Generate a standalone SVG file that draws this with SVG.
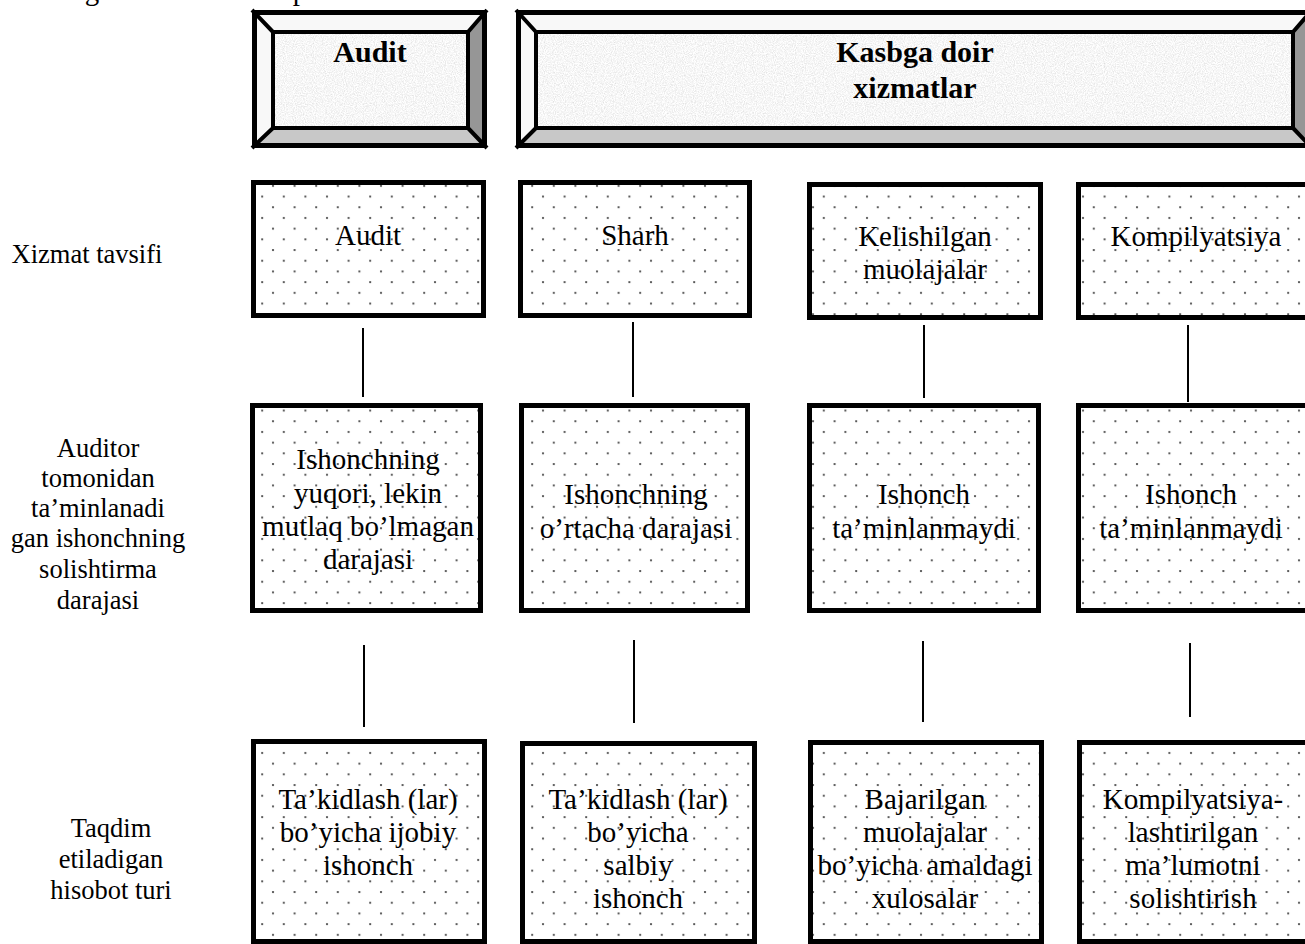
<svg xmlns="http://www.w3.org/2000/svg" width="1305" height="944" viewBox="0 0 1305 944">
<style>
  .t { font-family: "Liberation Serif", "Times New Roman", serif; font-size: 29px; fill: #000; text-anchor: middle; }
  .lbl { font-family: "Liberation Serif", "Times New Roman", serif; font-size: 26.5px; fill: #000; text-anchor: middle; }
  .hd { font-family: "Liberation Serif", "Times New Roman", serif; font-size: 30px; font-weight: bold; fill: #000; text-anchor: middle; }
  .box { fill: url(#dots); stroke: #000; stroke-width: 5; }
  .conn { stroke: #000; stroke-width: 2; fill: none; }
  .bl { fill: #f8f8f8; }
  .bd { fill: #969696; }
  .bb { fill: #c8c8c8; }
  .edge { stroke: #000; stroke-width: 4; fill: none; }
  .outer { stroke: #000; stroke-width: 5; fill: none; }
</style>
<defs>
  <pattern id="dots" patternUnits="userSpaceOnUse" x="0" y="0" width="21.6" height="21.4">
    <rect width="21.6" height="21.4" fill="#fff"/>
    <circle cx="3" cy="4" r="1.1" fill="#444"/>
    <circle cx="13.8" cy="14.7" r="1.1" fill="#444"/>
  </pattern>
  <filter id="granite" x="0" y="0" width="1" height="1">
    <feTurbulence type="fractalNoise" baseFrequency="0.9" numOctaves="3" seed="3" result="n"/>
    <feColorMatrix in="n" type="matrix" values="0.45 0 0 0 0.7  0.45 0 0 0 0.7  0.45 0 0 0 0.7  0 0 0 0 1"/>
  </filter>
</defs>
<rect width="1305" height="944" fill="#fff"/>

<!-- clipped line of text above the diagram -->
<text class="t" x="92" y="0">g</text>
<text class="t" x="300" y="0">p</text>

<!-- Header: Audit -->
<g id="hdr-audit">
  <polygon class="bl" points="252,10 487,10 468,32 273,32"/>
  <polygon class="bl" points="252,10 273,32 273,128 252,148"/>
  <polygon class="bd" points="487,10 487,148 468,128 468,32"/>
  <polygon class="bb" points="252,148 487,148 468,128 273,128"/>
  <rect x="273" y="32" width="195" height="96" filter="url(#granite)"/>
  <rect class="edge" x="273" y="32" width="195" height="96"/>
  <path class="edge" d="M252,10 L273,32 M487,10 L468,32 M252,148 L273,128 M487,148 L468,128"/>
  <rect class="outer" x="254.5" y="12.5" width="230" height="133"/>
  <text class="hd" x="370" y="62">Audit</text>
</g>

<!-- Header: Kasbga doir xizmatlar -->
<g id="hdr-kasbga">
  <polygon class="bl" points="516,10 1312,10 1293,32 536,32"/>
  <polygon class="bl" points="516,10 536,32 536,128 516,148"/>
  <polygon class="bd" points="1312,10 1312,148 1293,128 1293,32"/>
  <polygon class="bb" points="516,148 1312,148 1293,128 536,128"/>
  <rect x="536" y="32" width="757" height="96" filter="url(#granite)"/>
  <rect class="edge" x="536" y="32" width="757" height="96"/>
  <path class="edge" d="M516,10 L536,32 M1312,10 L1293,32 M516,148 L536,128 M1312,148 L1293,128"/>
  <rect class="outer" x="518.5" y="12.5" width="800" height="133"/>
  <text class="hd" x="915" y="62">Kasbga doir</text>
  <text class="hd" x="915" y="98">xizmatlar</text>
</g>

<!-- Row labels -->
<g id="lbl-1"><text class="lbl" x="87" y="263">Xizmat tavsifi</text></g>
<g id="lbl-2">
  <text class="lbl" x="98" y="457">Auditor</text>
  <text class="lbl" x="98" y="487">tomonidan</text>
  <text class="lbl" x="98" y="517">ta’minlanadi</text>
  <text class="lbl" x="98" y="547">gan ishonchning</text>
  <text class="lbl" x="98" y="578">solishtirma</text>
  <text class="lbl" x="98" y="609">darajasi</text>
</g>
<g id="lbl-3">
  <text class="lbl" x="111" y="837">Taqdim</text>
  <text class="lbl" x="111" y="868">etiladigan</text>
  <text class="lbl" x="111" y="899">hisobot turi</text>
</g>

<!-- Connectors -->
<g id="connectors">
  <line class="conn" x1="363" y1="328" x2="363" y2="397"/>
  <line class="conn" x1="633" y1="322" x2="633" y2="397"/>
  <line class="conn" x1="924" y1="325" x2="924" y2="398"/>
  <line class="conn" x1="1188" y1="325" x2="1188" y2="402"/>
  <line class="conn" x1="364" y1="645" x2="364" y2="727"/>
  <line class="conn" x1="634" y1="640" x2="634" y2="723"/>
  <line class="conn" x1="923" y1="641" x2="923" y2="722"/>
  <line class="conn" x1="1190" y1="643" x2="1190" y2="717"/>
</g>

<!-- Row 1 -->
<g id="r1c1">
  <rect class="box" x="253.5" y="182.5" width="230" height="133"/>
  <text class="t" x="368" y="245">Audit</text>
</g>
<g id="r1c2">
  <rect class="box" x="520.5" y="182.5" width="229" height="133"/>
  <text class="t" x="635" y="245">Sharh</text>
</g>
<g id="r1c3">
  <rect class="box" x="809.5" y="184.5" width="231" height="133"/>
  <text class="t" x="925" y="246">Kelishilgan</text>
  <text class="t" x="925" y="279">muolajalar</text>
</g>
<g id="r1c4">
  <rect class="box" x="1078.5" y="184.5" width="232" height="133"/>
  <text class="t" x="1196" y="246">Kompilyatsiya</text>
</g>

<!-- Row 2 -->
<g id="r2c1">
  <rect class="box" x="252.5" y="405.5" width="228" height="205"/>
  <text class="t" x="368" y="469">Ishonchning</text>
  <text class="t" x="368" y="503">yuqori, lekin</text>
  <text class="t" x="368" y="536">mutlaq bo’lmagan</text>
  <text class="t" x="368" y="569">darajasi</text>
</g>
<g id="r2c2">
  <rect class="box" x="521.5" y="405.5" width="226" height="205"/>
  <text class="t" x="636" y="504">Ishonchning</text>
  <text class="t" x="636" y="538">o’rtacha darajasi</text>
</g>
<g id="r2c3">
  <rect class="box" x="809.5" y="405.5" width="229" height="205"/>
  <text class="t" x="924" y="504">Ishonch</text>
  <text class="t" x="924" y="538">ta’minlanmaydi</text>
</g>
<g id="r2c4">
  <rect class="box" x="1078.5" y="405.5" width="232" height="205"/>
  <text class="t" x="1191" y="504">Ishonch</text>
  <text class="t" x="1191" y="538">ta’minlanmaydi</text>
</g>

<!-- Row 3 -->
<g id="r3c1">
  <rect class="box" x="253.5" y="741.5" width="231" height="200"/>
  <text class="t" x="368" y="809">Ta’kidlash (lar)</text>
  <text class="t" x="368" y="842">bo’yicha ijobiy</text>
  <text class="t" x="368" y="875">ishonch</text>
</g>
<g id="r3c2">
  <rect class="box" x="522.5" y="743.5" width="232" height="198"/>
  <text class="t" x="638" y="809">Ta’kidlash (lar)</text>
  <text class="t" x="638" y="842">bo’yicha</text>
  <text class="t" x="638" y="875">salbiy</text>
  <text class="t" x="638" y="908">ishonch</text>
</g>
<g id="r3c3">
  <rect class="box" x="810.5" y="742.5" width="231" height="199"/>
  <text class="t" x="925" y="809">Bajarilgan</text>
  <text class="t" x="925" y="842">muolajalar</text>
  <text class="t" x="925" y="875">bo’yicha amaldagi</text>
  <text class="t" x="925" y="908">xulosalar</text>
</g>
<g id="r3c4">
  <rect class="box" x="1079.5" y="742.5" width="232" height="199"/>
  <text class="t" x="1193" y="809">Kompilyatsiya-</text>
  <text class="t" x="1193" y="842">lashtirilgan</text>
  <text class="t" x="1193" y="875">ma’lumotni</text>
  <text class="t" x="1193" y="908">solishtirish</text>
</g>
</svg>
